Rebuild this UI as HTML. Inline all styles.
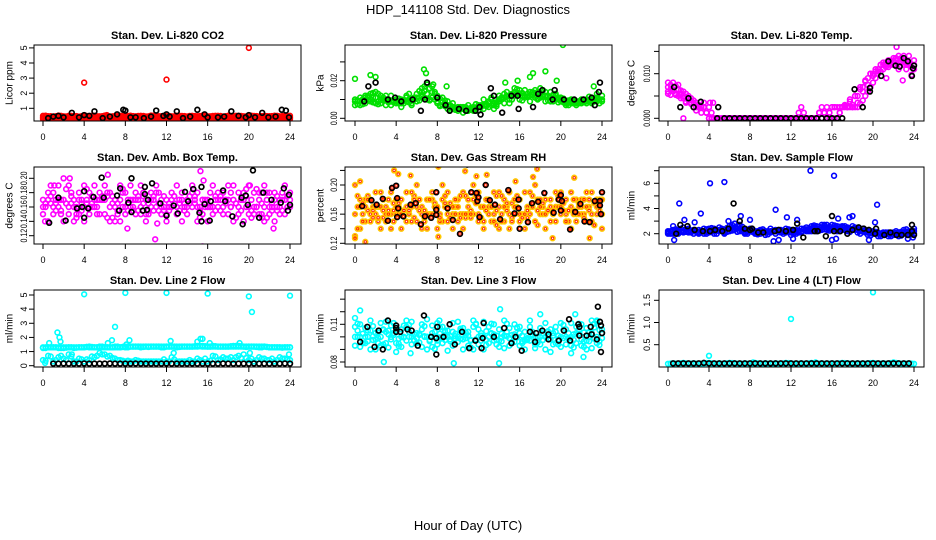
<!DOCTYPE html>
<html><head><meta charset="utf-8"><style>
body{margin:0;background:#fff;}
svg{display:block;font-family:"Liberation Sans",Arial,sans-serif;}
</style></head><body>
<svg id="chart" width="936" height="540" viewBox="0 0 936 540">
<text x="468" y="14" text-anchor="middle" font-size="13">HDP_141108  Std. Dev. Diagnostics</text>
<text x="468" y="530" text-anchor="middle" font-size="13">Hour of Day (UTC)</text>
</svg>
<script>
// ---------- data ----------
const hourTicks = [0,4,8,12,16,20,24];
// CO2
const co2A = [0.4,0.38,0.42,0.4,0.37,0.41,0.43,0.39,0.4,0.42,0.38,0.41,0.44,0.4,0.39,0.42,0.4,0.38,0.41,0.43,0.4,0.39,0.41,0.42,0.4,0.38,0.4,0.43,0.41,0.39,0.4,0.42,0.38,0.41,0.4,0.43,0.39,0.4,0.42,0.41,0.38,0.4,0.42,0.39,0.41,0.4,0.43,0.4,0.38];
const co2B = [0.3,0.33,0.28,0.31,0.35,0.3,0.29,0.32,0.34,0.3,0.31,0.28,0.33,0.3,0.32,0.29,0.31,0.34,0.3,0.28,0.32,0.31,0.3,0.33,0.29,0.31,0.3,0.28,0.33,0.32,0.3,0.29,0.34,0.31,0.3,0.28,0.32,0.33,0.3,0.31,0.29,0.32,0.3,0.34,0.31,0.29,0.3,0.32,0.3];
const co2C = [0.5,0.48,0.46,0.52,0.47,0.5,0.49,0.45,0.51,0.48,0.5,0.47,0.52,0.46,0.49,0.5,0.48,0.51,0.47,0.5,0.46,0.52,0.49,0.48,0.5,0.47,0.51,0.49,0.46,0.5,0.48,0.52,0.47,0.49,0.5,0.46,0.51,0.48,0.5,0.47,0.52,0.49,0.46,0.5,0.48,0.51,0.47,0.49,0.5];
const co2Out = [[4,2.7],[12,2.9],[20,5.0],[23.7,0.5],[6.2,0.55]];
const co2Blk = [[0.5,0.35],[1,0.45],[1.5,0.5],[2,0.4],[2.8,0.7],[3.5,0.4],[4,0.55],[4.5,0.5],[5,0.8],[5.8,0.35],[6.5,0.45],[7.2,0.6],[7.8,0.9],[8,0.85],[8.5,0.4],[9,0.4],[9.8,0.35],[10.5,0.45],[11,0.85],[11.7,0.5],[12,0.6],[12.3,0.45],[13,0.8],[13.6,0.35],[14.3,0.45],[15,0.9],[15.7,0.6],[16,0.4],[17,0.4],[17.6,0.45],[18.3,0.8],[19,0.5],[19.7,0.4],[20,0.55],[20.6,0.4],[21.3,0.7],[21.9,0.4],[22.6,0.45],[23.2,0.9],[23.6,0.85],[23.9,0.4]];
// Pressure
const prA = [0.01,0.009,0.011,0.013,0.014,0.012,0.01,0.009,0.008,0.01,0.009,0.008,0.013,0.016,0.018,0.014,0.012,0.009,0.007,0.006,0.005,0.006,0.005,0.004,0.006,0.007,0.006,0.008,0.009,0.011,0.012,0.014,0.013,0.011,0.012,0.015,0.013,0.012,0.011,0.013,0.009,0.008,0.009,0.008,0.008,0.009,0.01,0.011,0.009];
const prB = [0.007,0.011,0.008,0.009,0.011,0.008,0.007,0.012,0.01,0.006,0.011,0.01,0.009,0.012,0.01,0.017,0.009,0.011,0.005,0.008,0.004,0.003,0.007,0.005,0.004,0.01,0.008,0.005,0.012,0.008,0.01,0.016,0.01,0.015,0.009,0.011,0.016,0.009,0.014,0.01,0.011,0.007,0.01,0.007,0.009,0.01,0.008,0.013,0.012];
const prC = [0.009,0.007,0.012,0.01,0.008,0.01,0.012,0.007,0.009,0.008,0.012,0.007,0.011,0.014,0.013,0.011,0.008,0.007,0.009,0.005,0.006,0.005,0.004,0.006,0.007,0.005,0.009,0.007,0.01,0.013,0.008,0.012,0.015,0.012,0.014,0.012,0.011,0.014,0.009,0.012,0.01,0.009,0.008,0.009,0.01,0.008,0.009,0.009,0.01];
const prOut = [[0,0.021],[1.5,0.023],[2,0.022],[6.7,0.026],[6.9,0.024],[7.6,0.018],[8.9,0.017],[14.6,0.019],[15.8,0.02],[17,0.022],[17.3,0.024],[18.5,0.025],[19.6,0.02],[20.2,0.039],[23.2,0.017]];
const prBlk = [[0.9,0.009],[1.3,0.017],[2.0,0.019],[3.2,0.01],[3.9,0.011],[4.5,0.009],[5.6,0.01],[6.4,0.004],[7.0,0.019],[6.8,0.01],[8.0,0.011],[8.8,0.007],[9.2,0.004],[10.1,0.005],[10.8,0.004],[11.7,0.004],[12.2,0.002],[12.1,0.006],[13.2,0.016],[13.5,0.012],[14.3,0.003],[15.2,0.012],[15.9,0.005],[15.8,0.012],[17.3,0.006],[17.8,0.013],[18.2,0.015],[19.4,0.015],[19.2,0.01],[20.3,0.01],[21.3,0.01],[22.2,0.01],[23.0,0.011],[23.3,0.007],[23.7,0.014],[23.8,0.019]];
// Li-820 temp
const tmA = [0.007,0.008,0.0065,0.006,0.005,0.004,0.003,0.0025,0,0,0,0,0,0,0,0,0,0,0,0,0,0,0,0,0,0,0.0025,0,0,0,0.0025,0,0,0,0.0025,0.0025,0.0025,0.0025,0.004,0.006,0.008,0.01,0.011,0.012,0.013,0.014,0.013,0.012,0.011];
const tmB = [0.0055,0.006,0.005,0.0045,0.004,0.0025,0.0025,0.0025,0.0025,0,0,0,0,0,0,0,0,0,0,0,0,0,0,0,0,0,0,0,0,0,0,0.0025,0.0025,0,0.0025,0.0025,0.003,0.005,0.007,0.009,0.01,0.011,0.012,0.013,0.012,0.011,0.012,0.014,0.012];
const tmC = [0.008,0.0065,0.0075,0.005,0.0045,0.0035,0.0025,0.0025,0,0,0,0,0,0,0,0,0,0,0,0,0,0,0,0,0,0,0,0,0,0,0,0,0.0025,0.0025,0.0025,0.0025,0.0025,0.0035,0.006,0.0075,0.0095,0.0105,0.0125,0.0115,0.0135,0.0125,0.014,0.0125,0.013];
const tmOut = [[0,0.006],[1.5,0],[3.5,0.0035],[4.1,0.0035],[4.4,0.0035],[21.3,0.009],[22.3,0.016],[22.9,0.0085],[23.4,0.0125]];
const tmBlk = [[0.6,0.007],[1.2,0.0025],[2,0.0045],[2.5,0.0025],[3.2,0.0037],[4.9,0.0025],[4.8,0],[6,0],[7,0],[8,0],[9,0],[10,0],[11,0],[12,0],[13,0],[14,0],[15,0],[16,0],[17,0],[19,0.0025],[18.2,0.0065],[19.7,0.006],[19.7,0.0068],[20.8,0.0095],[21.5,0.0128],[22.2,0.0118],[22.6,0.0116],[23.0,0.0135],[23.4,0.0128],[23.9,0.0112],[23.8,0.0095],[24,0.0118],[5.5,0],[6.5,0],[7.5,0],[8.5,0],[9.5,0],[10.5,0],[11.5,0],[12.5,0],[13.5,0],[14.5,0],[15.5,0],[16.5,0]];
// Amb box temp
const abA = [0.15,0.17,0.18,0.16,0.14,0.19,0.17,0.15,0.16,0.18,0.17,0.15,0.19,0.16,0.17,0.14,0.18,0.16,0.15,0.19,0.17,0.16,0.18,0.15,0.17,0.16,0.19,0.14,0.17,0.18,0.16,0.15,0.17,0.19,0.16,0.18,0.15,0.17,0.16,0.18,0.19,0.15,0.17,0.16,0.18,0.14,0.17,0.19,0.16];
const abB = [0.17,0.14,0.16,0.19,0.17,0.15,0.16,0.18,0.14,0.16,0.19,0.17,0.15,0.18,0.14,0.17,0.16,0.19,0.17,0.15,0.14,0.18,0.16,0.17,0.15,0.18,0.16,0.17,0.15,0.16,0.18,0.17,0.14,0.16,0.18,0.15,0.17,0.19,0.15,0.14,0.16,0.18,0.15,0.19,0.15,0.17,0.16,0.15,0.18];
const abC = [0.16,0.18,0.15,0.17,0.2,0.16,0.14,0.17,0.19,0.15,0.16,0.18,0.17,0.14,0.16,0.19,0.15,0.17,0.18,0.16,0.15,0.17,0.19,0.16,0.14,0.17,0.15,0.18,0.16,0.19,0.14,0.17,0.16,0.15,0.17,0.16,0.19,0.14,0.18,0.17,0.15,0.16,0.18,0.14,0.16,0.18,0.15,0.17,0.17];
const abOut = [[0.2,0.14],[1.1,0.19],[2.6,0.2],[6.3,0.205],[8.2,0.13],[10.9,0.115],[11.1,0.137],[15.3,0.21],[15.5,0.105],[15.6,0.197],[20.1,0.19],[22.4,0.13],[21.3,0.145]];
const abBlk = [[0.6,0.138],[1.5,0.173],[2.2,0.141],[3.3,0.158],[3.8,0.16],[4.9,0.174],[5.9,0.173],[4.0,0.182],[4.0,0.145],[7.4,0.155],[7.2,0.176],[8.6,0.153],[8.3,0.166],[9.7,0.155],[10.1,0.156],[9.9,0.188],[10.2,0.17],[9.9,0.178],[10.6,0.193],[11.4,0.165],[12.7,0.162],[14.1,0.168],[15.4,0.188],[14.6,0.185],[15.7,0.164],[16.3,0.168],[17.5,0.183],[17.7,0.168],[19.3,0.173],[19.9,0.163],[19.7,0.176],[21.4,0.18],[22.2,0.17],[23.4,0.186],[23.1,0.166],[23.9,0.177],[23.8,0.155],[24,0.163],[21.0,0.145],[18.4,0.147],[16.2,0.141],[12.0,0.148],[13.1,0.151],[5.7,0.201],[4.4,0.158],[19.4,0.136],[15.2,0.152],[15.4,0.14],[20.4,0.211],[8.6,0.2],[7.5,0.186],[13.8,0.181]];
// Gas stream RH
const rhA = [0.2,0.17,0.15,0.18,0.16,0.14,0.17,0.19,0.16,0.18,0.15,0.17,0.2,0.16,0.14,0.18,0.17,0.15,0.19,0.16,0.18,0.14,0.17,0.16,0.19,0.15,0.18,0.16,0.17,0.15,0.19,0.16,0.18,0.14,0.17,0.2,0.16,0.18,0.15,0.17,0.19,0.16,0.14,0.18,0.17,0.15,0.19,0.16,0.18];
const rhB = [0.16,0.14,0.18,0.16,0.19,0.17,0.15,0.16,0.18,0.14,0.17,0.19,0.15,0.17,0.18,0.16,0.14,0.18,0.16,0.17,0.15,0.19,0.16,0.18,0.15,0.17,0.16,0.19,0.14,0.18,0.16,0.17,0.15,0.19,0.16,0.15,0.18,0.14,0.17,0.19,0.16,0.18,0.17,0.15,0.16,0.19,0.15,0.17,0.14];
const rhC = [0.13,0.18,0.17,0.15,0.17,0.19,0.16,0.14,0.17,0.16,0.19,0.15,0.17,0.14,0.16,0.19,0.17,0.2,0.15,0.14,0.17,0.16,0.18,0.2,0.16,0.14,0.17,0.15,0.19,0.17,0.14,0.18,0.16,0.16,0.19,0.15,0.17,0.16,0.18,0.15,0.17,0.15,0.19,0.16,0.18,0.17,0.16,0.18,0.16];
const rhOut = [[0,0.127],[0.5,0.205],[1,0.122],[3.8,0.22],[4.2,0.215],[5.4,0.213],[8.1,0.225],[8.1,0.129],[10.7,0.219],[11.8,0.212],[12.8,0.214],[15.6,0.205],[17.7,0.222],[17.3,0.211],[19.2,0.127],[21.3,0.21],[22.8,0.127]];
const rhBlk = [[0.7,0.171],[1.6,0.179],[2.1,0.173],[2.7,0.181],[3.2,0.151],[3.6,0.196],[4.0,0.199],[4.1,0.182],[4.2,0.168],[4.1,0.156],[4.7,0.157],[5.4,0.173],[5.9,0.175],[6.4,0.146],[6.8,0.157],[7.4,0.155],[7.9,0.159],[7.9,0.166],[7.9,0.19],[9.0,0.168],[9.5,0.152],[10.2,0.133],[10.9,0.228],[11.3,0.19],[11.8,0.189],[11.9,0.178],[12.1,0.156],[12.0,0.183],[12.7,0.2],[13.1,0.179],[13.6,0.173],[14.1,0.153],[14.9,0.193],[15.5,0.161],[15.9,0.18],[15.9,0.168],[16.0,0.14],[16.8,0.149],[17.2,0.175],[17.8,0.177],[18.4,0.189],[19.3,0.162],[19.8,0.18],[20.0,0.186],[20.1,0.178],[20.0,0.165],[20.9,0.139],[21.4,0.163],[21.9,0.174],[22.3,0.15],[22.8,0.149],[23.3,0.178],[23.8,0.178],[24,0.19],[23.9,0.16],[23.8,0.172]];
// Sample flow
const sfA = [2.1,2.0,2.3,2.5,2.2,2.0,2.3,2.2,2.1,2.4,2.2,2.3,2.6,2.8,2.4,2.3,2.2,2.1,2.0,2.2,2.1,2.3,2.2,2.1,2.3,2.0,2.2,2.5,2.4,2.6,2.5,2.7,2.4,2.6,2.5,2.4,2.3,2.4,2.2,2.1,2.0,2.1,1.9,2.0,1.9,2.0,2.1,2.2,2.0];
const sfB = [2.0,2.6,2.0,2.1,2.4,2.3,2.0,2.0,2.4,2.0,2.5,2.0,2.2,2.3,2.7,2.0,2.4,2.0,2.3,1.9,2.4,2.0,2.1,2.4,1.9,2.3,2.1,2.2,2.6,2.2,2.7,2.3,2.7,2.2,2.6,2.2,2.6,2.1,2.4,1.9,2.2,1.8,2.1,1.8,2.1,1.8,2.3,1.9,2.4];
const sfC = [2.2,2.3,2.1,2.2,2.1,2.2,2.1,2.4,2.2,2.2,2.3,2.1,2.4,2.5,2.2,2.1,2.3,2.2,2.2,2.1,2.2,2.2,2.3,2.2,2.1,2.2,2.4,2.3,2.2,2.4,2.3,2.5,2.3,2.4,2.3,2.5,2.4,2.3,2.2,2.2,2.1,2.0,2.0,2.1,2.0,2.1,2.0,2.1,2.2];
const sfOut = [[0.6,1.5],[1.1,4.4],[1.6,3.1],[2.6,2.9],[3.2,3.6],[4.1,6.0],[5.5,6.1],[5.9,3.0],[7.1,3.4],[8,3.1],[10.5,3.9],[10.3,1.4],[10.8,1.5],[11.6,3.3],[12.2,1.6],[12.6,3.1],[13.9,7.0],[16.0,1.5],[16.2,6.6],[16.4,1.6],[16.6,3.2],[17.7,3.3],[18.0,3.4],[19.6,1.5],[20.2,2.9],[20.4,4.3],[23.4,1.6],[23.9,1.7]];
const sfBlk = [[0.8,2.0],[1.2,2.7],[1.9,2.6],[2.6,2.3],[3.4,2.2],[4.1,2.2],[4.6,2.3],[5.3,2.2],[5.9,2.4],[6.4,4.4],[7.0,3.0],[7.5,2.4],[8.0,2.3],[8.2,2.4],[8.8,2.1],[9.3,2.1],[10.4,2.2],[10.8,2.3],[11.5,2.2],[12.2,2.3],[12.6,2.8],[13.2,1.7],[14.3,2.2],[14.6,2.2],[15.4,1.8],[16.0,3.4],[16.2,2.2],[16.8,2.2],[17.5,2.0],[18.0,2.3],[18.6,2.5],[19.1,2.4],[19.6,2.3],[20.2,2.0],[20.3,2.4],[21.1,1.9],[21.7,2.1],[22.3,1.9],[22.8,1.9],[23.4,1.9],[23.8,2.2],[23.8,2.7],[24,1.9]];
// Line 2 flow
const l2A = [1.3,1.3,1.3,1.3,1.25,1.3,1.3,1.3,1.3,1.35,1.3,1.3,1.3,1.3,1.3,1.3,1.35,1.35,1.35,1.35,1.35,1.35,1.35,1.35,1.35,1.35,1.35,1.35,1.35,1.35,1.4,1.4,1.35,1.35,1.35,1.35,1.35,1.4,1.4,1.35,1.35,1.35,1.35,1.35,1.3,1.3,1.3,1.3,1.3];
const l2B = [0.4,0.7,0.3,0.6,0.5,0.8,0.3,0.5,0.3,0.4,0.6,0.9,0.8,0.7,0.5,0.4,0.3,0.3,0.4,0.3,0.3,0.3,0.3,0.3,0.3,0.6,0.3,0.3,0.3,0.3,0.5,0.3,0.3,0.7,0.4,0.6,0.5,0.4,0.7,0.8,0.4,0.3,0.6,0.5,0.4,0.3,0.6,0.5,0.4];
const l2C = [1.25,1.3,1.3,1.25,1.3,1.3,1.25,1.3,1.3,1.3,1.3,1.35,1.3,1.3,1.35,1.3,1.3,1.35,1.35,1.3,1.35,1.35,1.35,1.3,1.35,1.35,1.3,1.35,1.35,1.35,1.35,1.35,1.35,1.4,1.35,1.35,1.35,1.35,1.35,1.35,1.35,1.35,1.3,1.35,1.3,1.3,1.3,1.3,1.3];
const l2Out = [[0.2,0.2],[0.6,1.6],[1.4,2.35],[1.6,2.0],[1.7,1.7],[2.8,0.8],[4,5.05],[6.3,1.6],[6.7,1.8],[7.0,2.75],[8,5.15],[8.4,1.8],[8.1,1.5],[12,5.15],[12.4,1.75],[12.7,0.9],[15.0,1.7],[15.3,1.9],[15.5,1.9],[16,5.1],[16.2,1.6],[19.1,1.6],[20,4.9],[20.3,3.8],[20.1,0.9],[24,4.95],[23.9,0.8]];
const l2Blk = [0.15,0.15,0.16,0.15,0.15,0.15,0.16,0.15,0.15,0.15,0.15,0.16,0.15,0.15,0.15,0.15,0.16,0.15,0.15,0.15,0.15,0.15,0.16,0.15,0.15,0.15,0.15,0.16,0.15,0.15,0.15,0.15,0.15,0.16,0.15,0.15,0.15,0.15,0.15,0.16,0.15,0.15,0.15,0.15,0.15,0.16,0.15];
// Line 3 flow
const l3A = [0.1,0.11,0.095,0.105,0.09,0.1,0.112,0.098,0.105,0.092,0.108,0.1,0.095,0.11,0.09,0.103,0.097,0.108,0.1,0.093,0.112,0.098,0.104,0.09,0.106,0.1,0.095,0.11,0.092,0.101,0.107,0.096,0.103,0.09,0.108,0.1,0.094,0.111,0.098,0.104,0.092,0.106,0.1,0.095,0.11,0.097,0.103,0.112,0.099];
const l3B = [0.093,0.1,0.107,0.09,0.103,0.111,0.095,0.1,0.088,0.106,0.097,0.112,0.103,0.092,0.1,0.109,0.094,0.099,0.105,0.111,0.096,0.09,0.101,0.108,0.094,0.112,0.1,0.097,0.106,0.091,0.099,0.11,0.093,0.104,0.097,0.091,0.107,0.1,0.088,0.108,0.1,0.094,0.111,0.103,0.093,0.107,0.091,0.1,0.106];
const l3C = [0.108,0.092,0.1,0.113,0.098,0.093,0.104,0.109,0.095,0.1,0.113,0.094,0.099,0.106,0.1,0.092,0.111,0.095,0.089,0.104,0.1,0.107,0.093,0.113,0.1,0.09,0.108,0.102,0.097,0.113,0.093,0.102,0.108,0.097,0.113,0.094,0.1,0.09,0.106,0.095,0.111,0.1,0.093,0.108,0.098,0.09,0.113,0.095,0.103];
const l3Out = [[0,0.115],[0.5,0.121],[2.8,0.08],[5.4,0.087],[7.0,0.114],[8.2,0.113],[9.6,0.079],[14.0,0.079],[14.1,0.122],[18.0,0.118],[21.4,0.118],[22.2,0.084],[23.5,0.113],[21.0,0.087]];
const l3Blk = [[0.5,0.096],[1.2,0.108],[1.9,0.092],[2.3,0.105],[2.7,0.09],[3.2,0.113],[4.0,0.109],[4.0,0.107],[4.0,0.104],[4.4,0.104],[5.1,0.106],[5.5,0.105],[6.1,0.093],[6.7,0.117],[7.4,0.1],[7.9,0.086],[8.0,0.108],[7.9,0.099],[8.6,0.1],[9.2,0.11],[9.7,0.094],[10.4,0.104],[11.1,0.091],[11.7,0.097],[12.4,0.099],[12.5,0.111],[12.3,0.091],[13.5,0.1],[14.5,0.107],[15.2,0.095],[15.6,0.1],[16.2,0.089],[17.0,0.104],[17.5,0.096],[17.6,0.103],[18.2,0.105],[18.8,0.102],[18.8,0.098],[19.8,0.097],[20.3,0.105],[20.8,0.114],[20.9,0.097],[21.7,0.11],[21.8,0.108],[21.8,0.101],[22.5,0.101],[23.0,0.102],[23.5,0.098],[23.9,0.109],[24,0.103],[23.8,0.112],[23.9,0.088],[23.6,0.124],[22.9,0.108]];
// Line 4 flow
const l4A = [0.07,0.08,0.07,0.09,0.07,0.08,0.07,0.08,0.09,0.07,0.08,0.07,0.09,0.08,0.07,0.08,0.07,0.09,0.07,0.08,0.07,0.08,0.07,0.09,0.08,0.07,0.08,0.07,0.09,0.07,0.08,0.07,0.08,0.07,0.09,0.08,0.07,0.08,0.07,0.08,0.09,0.07,0.08,0.07,0.1,0.08,0.07,0.08,0.07];
const l4Out = [[4,0.25],[12,1.08],[20,1.68],[8.3,0.1],[14.4,0.1]];
const l4Blk = [0.08,0.08,0.08,0.08,0.08,0.08,0.09,0.08,0.08,0.08,0.08,0.08,0.08,0.08,0.08,0.08,0.08,0.08,0.08,0.08,0.08,0.08,0.08,0.08,0.08,0.08,0.08,0.08,0.08,0.08,0.08,0.08,0.08,0.08,0.08,0.08,0.08,0.08,0.08,0.08,0.08,0.08,0.08,0.08,0.08,0.08,0.08];

// ---------- drawing ----------
const NS = 'http://www.w3.org/2000/svg';
const svg = document.getElementById('chart');
function mk(tag, attrs, parent){const e=document.createElementNS(NS,tag);for(const k in attrs)e.setAttribute(k,attrs[k]);(parent||svg).appendChild(e);return e;}
const cols = [{l:34,r:301,x0:43,x1:290,lab:24,tit:9},{l:345,r:612,x0:355,x1:602,lab:334,tit:320},{l:659,r:924,x0:668,x1:914,lab:647,tit:631}];
const rows = [{t:45,b:121},{t:167,b:244},{t:290,b:367}];

function panel(ci, ri, name, title, ytitle, yMin, yMax, pxMin, pxMax, ticks, labels, color, seqs, outs, blkPairs, blkSeq, rh){
  const c=cols[ci], r=rows[ri];
  const g=mk('g',{});
  
  
  const xs=h=>c.x0+(c.x1-c.x0)*h/24;
  const ys=v=>pxMin+(pxMax-pxMin)*(v-yMin)/(yMax-yMin);
  const t=mk('text',{x:(c.l+c.r)/2,y:r.t-6,'text-anchor':'middle','font-size':'11','font-weight':'bold'},g);
  t.textContent=title;
  
  
  const cy0=(r.t+r.b)/2;
  const yt=mk('text',{x:c.tit,y:cy0,dy:'0.35em','text-anchor':'middle','font-size':'10',transform:`rotate(-90 ${c.tit} ${cy0})`},g);
  yt.textContent=ytitle;
  
  
  // x axis
  const xa=mk('g',{},g);
  
  
  mk('line',{x1:xs(0),x2:xs(24),y1:r.b,y2:r.b,stroke:'#000'},xa);
  hourTicks.forEach(h=>{
    mk('line',{x1:xs(h),x2:xs(h),y1:r.b,y2:r.b+5,stroke:'#000'},xa);
    const tl=mk('text',{x:xs(h),y:r.b+19,'text-anchor':'middle','font-size':'9'},xa);
    tl.textContent=h;
  });
  // y axis
  const ya=mk('g',{},g);
  
  
  mk('line',{x1:c.l,x2:c.l,y1:ys(ticks[0]),y2:ys(ticks[ticks.length-1]),stroke:'#000'},ya);
  ticks.forEach((v,i)=>{
    const y=ys(v);
    mk('line',{x1:c.l-5,x2:c.l,y1:y,y2:y,stroke:'#000'},ya);
    if(labels[i]){
      const attrs={x:c.lab,y:y,dy:'0.35em','text-anchor':'middle','font-size':'9',transform:`rotate(-90 ${c.lab} ${y})`};
      if(labels[i].length>=4){attrs.textLength=String(labels[i].length*3.4);attrs.lengthAdjust='spacingAndGlyphs';}
      const tl=mk('text',attrs,ya);
      tl.textContent=labels[i];
    }
  });
  // clip + box
  const cid='clip-'+name;
  const cp=mk('clipPath',{id:cid},g); mk('rect',{x:c.l,y:r.t,width:c.r-c.l,height:r.b-r.t},cp);
  const pg=mk('g',{'clip-path':`url(#${cid})`},g);
  
  
  function dot(h,v,col,w){
    const cx=xs(h), cy=ys(v);
    const e=mk('circle',{cx:cx,cy:cy,r:2.4,fill:'none',stroke:col,'stroke-width':w},pg);
    
    
    if(rh){ mk('circle',{cx:cx,cy:cy,r:1.2,fill:'none',stroke:'#ff2000','stroke-width':0.9},pg); }
  }
  seqs.forEach((arr,si)=>{
    const step=24/(arr.length-1);
    arr.forEach((v,i)=>{
      dot(i*step,v,color,1.6);
      if(i<arr.length-1){ const nv=arr[(i+si+1)%arr.length]; dot(i*step+step/2,(v+nv)/2,color,1.6); }
    });
  });
  outs.forEach(p=>dot(p[0],p[1],color,1.6));
  blkPairs.forEach(p=>dot(p[0],p[1],'#000',1.7));
  if(blkSeq){ const s=blkSeq.x0, st=blkSeq.step; blkSeq.vals.forEach((v,i)=>dot(s+i*st,v,'#000',1.7)); }
  const box=mk('rect',{x:c.l,y:r.t,width:c.r-c.l,height:r.b-r.t,fill:'none',stroke:'#000'},g);
  
  
}

panel(0,0,'co2','Stan. Dev. Li-820 CO2','Licor ppm',1,5,108.3,47.9,[1,2,3,4,5],['1','2','3','4','5'],'#ff0000',[co2A,co2B,co2C],co2Out,co2Blk,null,false);
panel(1,0,'pressure','Stan. Dev. Li-820 Pressure','kPa',0,0.02,118.3,80.7,[0,0.01,0.02,0.03],['0.00','','0.02',''],'#00e000',[prA,prB,prC],prOut,prBlk,null,false);
panel(2,0,'li820-temp','Stan. Dev. Li-820 Temp.','degrees C',0,0.01,118.3,73.7,[0,0.005,0.01,0.015],['0.000','','0.010',''],'#ff00ff',[tmA,tmB,tmC],tmOut,tmBlk,null,false);
panel(0,1,'amb-box-temp','Stan. Dev. Amb. Box Temp.','degrees C',0.12,0.2,235.7,178.3,[0.12,0.14,0.16,0.18,0.2],['0.12','0.14','0.16','0.18','0.20'],'#ff00ff',[abA,abB,abC],abOut,abBlk,null,false);
panel(1,1,'gas-stream-rh','Stan. Dev. Gas Stream RH','percent',0.12,0.2,243.3,185,[0.12,0.14,0.16,0.18,0.2,0.22],['0.12','','0.16','','0.20',''],'#ffc800',[rhA,rhB,rhC],rhOut,rhBlk,null,true);
panel(2,1,'sample-flow','Stan. Dev. Sample Flow','ml/min',2,6,233.7,183.3,[2,3,4,5,6,7],['2','','4','','6',''],'#0000ff',[sfA,sfB,sfC],sfOut,sfBlk,null,false);
panel(0,2,'line2-flow','Stan. Dev. Line 2 Flow','ml/min',0,5,365.7,295,[0,1,2,3,4,5],['0','1','2','3','4','5'],'#00ffff',[l2A,l2B,l2C],l2Out,[],{x0:1,step:0.5,vals:l2Blk},false);
panel(1,2,'line3-flow','Stan. Dev. Line 3 Flow','ml/min',0.08,0.11,362,324.3,[0.08,0.09,0.1,0.11,0.12,0.13],['0.08','','','0.11','',''],'#00ffff',[l3A,l3B,l3C],l3Out,l3Blk,null,false);
panel(2,2,'line4-flow','Stan. Dev. Line 4 (LT) Flow','ml/min',0.5,1.5,344.7,300.3,[0.5,1.0,1.5],['0.5','1.0','1.5'],'#00ffff',[l4A],l4Out,[],{x0:0.5,step:0.5,vals:l4Blk},false);
</script>
</body></html>
